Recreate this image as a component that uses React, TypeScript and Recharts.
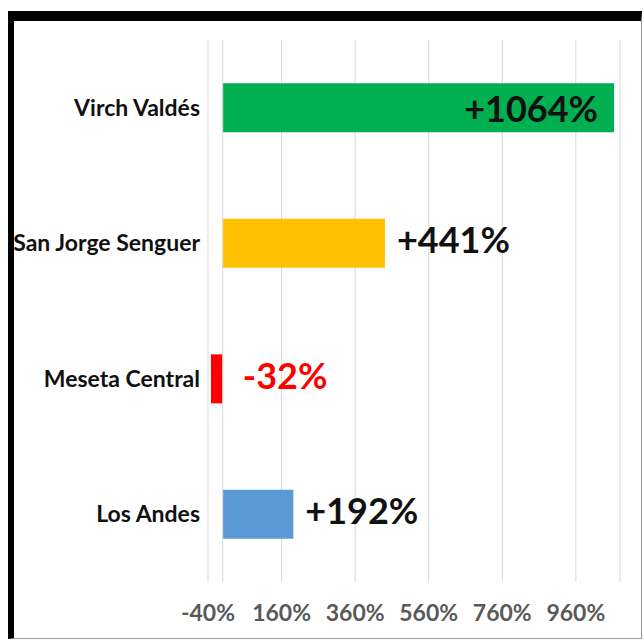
import React from 'react'
import { BarChart, Bar, XAxis, YAxis, CartesianGrid, ReferenceLine, Cell, LabelList } from 'recharts'

const categories = ['Virch Valdés', 'San Jorge Senguer', 'Meseta Central', 'Los Andes']
const changes = [1064, 441, -32, 192]
const barColors = ['#00b050', '#ffc000', '#ff0000', '#5b9bd5']
const xTicks = [-40, 160, 360, 560, 760, 960]

const data = categories.map((name, i) => ({ name, value: changes[i] }))

const FONT = 'Lato, "Open Sans", sans-serif'

function ValueLabel(props: any) {
  const { x, y, width, height, value, index } = props
  const right = Math.max(x, x + width)
  const cy = y + height / 2
  const neg = value < 0
  const txt = `${neg ? '' : '+'}${value}%`
  // biggest bar gets its label inside the end
  if (index === 0) {
    return (
      <text x={right - 16} y={cy} textAnchor="end" dominantBaseline="central"
        fontFamily={FONT} fontWeight={700} fontSize={36} fill="#111">{txt}</text>
    )
  }
  const left = neg ? Math.max(x, x + width) + 20 : right + 12
  return (
    <text x={left} y={cy - 4} textAnchor="start" dominantBaseline="central"
      fontFamily={FONT} fontWeight={700} fontSize={36} fill={neg ? '#ff0000' : '#111'}>{txt}</text>
  )
}

export default function App() {
  return (
    <div style={{ position: 'absolute', left: 0, top: 0, width: 644, height: 641, background: '#fff' }}>
      <div style={{
        position: 'absolute', left: 8, top: 11, width: 627, height: 617,
        borderTop: '10px solid #000', borderLeft: '6px solid #000',
        borderRight: '1px solid #9a9a9a', borderBottom: '1px solid #9a9a9a',
      }} />
      <div style={{ position: 'absolute', left: 0, top: 0 }}>
        <BarChart
          width={644}
          height={641}
          data={data}
          layout="vertical"
          margin={{ top: 40, right: 24, bottom: 0, left: 0 }}
          barCategoryGap="32%"
        >
          <CartesianGrid horizontal={false} stroke="#d9d9d9" />
          <XAxis
            type="number"
            domain={[-40, 1080]}
            ticks={xTicks}
            allowDataOverflow
            tickFormatter={(v: number) => `${v}%`}
            axisLine={false}
            tickLine={false}
            tickMargin={17}
            height={59}
            tick={{ fontFamily: FONT, fontWeight: 700, fontSize: 23, fill: '#595959' }}
          />
          <YAxis
            type="category"
            dataKey="name"
            width={208}
            axisLine={false}
            tickLine={false}
            tickMargin={0}
            tick={{ fontFamily: FONT, fontWeight: 700, fontSize: 23, fill: '#111' }}
            dx={-2}
          />
          <ReferenceLine x={0} stroke="#d9d9d9" />
          <Bar dataKey="value" isAnimationActive={false}>
            {data.map((d, i) => <Cell key={d.name} fill={barColors[i]} />)}
            <LabelList dataKey="value" content={ValueLabel} />
          </Bar>
        </BarChart>
      </div>
    </div>
  )
}
